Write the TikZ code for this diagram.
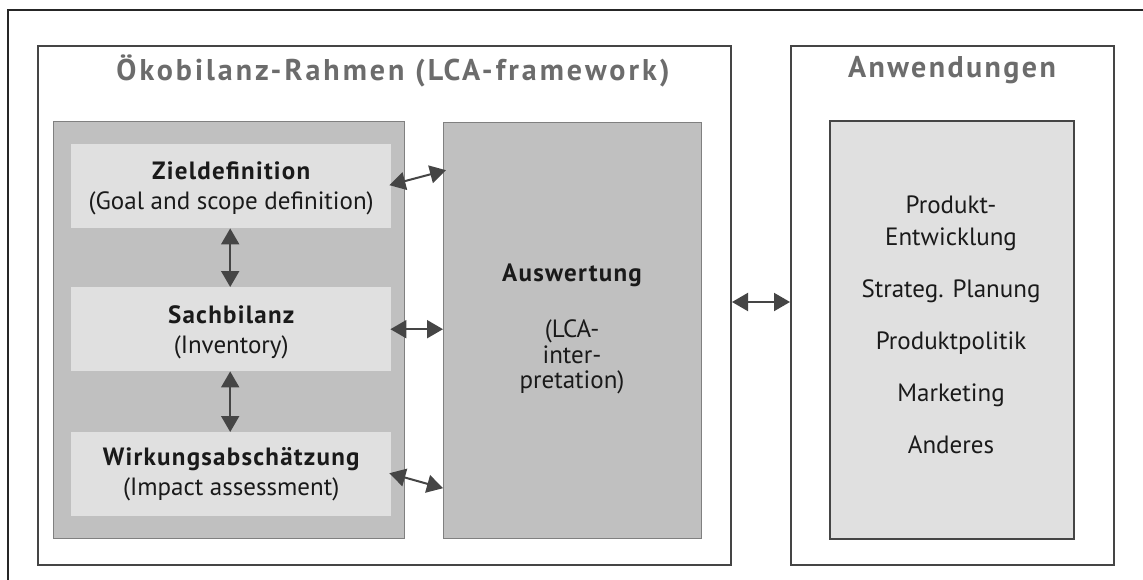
\documentclass[tikz,border=0pt]{standalone}
\usepackage{fontspec}
\setmainfont{PT Sans}
\newfontfamily\boldsp{PT Sans}[LetterSpace=5]
\newfontfamily\headsp{PT Sans}[LetterSpace=10]
\newfontfamily\headspb{PT Sans}[LetterSpace=8]
\usetikzlibrary{arrows.meta,calc}
\definecolor{txt}{HTML}{1A1A1A}
\definecolor{headgray}{HTML}{6C6C6C}
\definecolor{darkline}{HTML}{454545}
\definecolor{midgray}{HTML}{C0C0C0}
\definecolor{lightgray}{HTML}{E0E0E0}
\newcommand{\bl}[1]{{\boldsp\bfseries #1}}
\begin{document}
\begin{tikzpicture}[x=1pt,y=-1pt,
  outerframe/.style={draw=black!85, line width=1.5pt},
  bigframe/.style={draw=darkline, line width=2pt, inner sep=0pt, anchor=north west},
  panel/.style={fill=midgray, draw=black!50, line width=1pt, inner sep=0pt, anchor=north west},
  stepbox/.style={fill=lightgray, draw=none, inner sep=0pt, anchor=north west, minimum width=320pt, minimum height=84pt},
  appbox/.style={fill=lightgray, draw=darkline, line width=2pt, inner sep=0pt, anchor=north west},
  heading/.style={text=headgray},
  label/.style={text=txt, align=center, font=\fontsize{25}{30}\selectfont},
  dbl/.style={{Triangle[length=16pt,width=18pt]}-{Triangle[length=16pt,width=18pt]}, line width=2pt, draw=darkline}
]
\useasboundingbox (0,0) rectangle (1143,580);
\fill[white] (0,0) rectangle (1143,580);
\begin{scope}
  \clip (0,0) rectangle (1143,580);
  \draw[outerframe] (8,10) rectangle (1170,610);
\end{scope}

% frames
\node[bigframe, minimum width=693pt, minimum height=519pt] (lca) at (37,45) {};
\node[bigframe, minimum width=323pt, minimum height=519pt] (anw) at (790,45) {};

\node[heading, font=\fontsize{30}{34}\selectfont\headsp\bfseries] (lcahead) at (393,71) {Ökobilanz-Rahmen (LCA-framework)};
\node[heading, font=\fontsize{30}{34}\selectfont\headspb\bfseries] (anwhead) at (952,70) {Anwendungen};

% left panel
\node[panel, minimum width=351pt, minimum height=417pt] (panel) at (53,121) {};
\node[stepbox] (ziel) at (71,144) {};
\node[stepbox] (sach) at (71,287) {};
\node[stepbox] (wirk) at (71,432) {};

\node[label] (zieltext) at ($(ziel.center)+(0,2)$) {\bl{Zieldefinition}\\(Goal and scope definition)};
\node[label] (sachtext) at ($(sach.center)+(0,3)$) {\bl{Sachbilanz}\\(Inventory)};
\node[label] (wirktext) at ($(wirk.center)+(0,0)$) {\bl{Wirkungsabschätzung}\\(Impact assessment)};

% Auswertung
\node[panel, minimum width=258pt, minimum height=416pt] (ausw) at (443,122) {};
\node[label, font=\fontsize{25}{25.5}\selectfont] (auswtext) at (572,329) {\bl{Auswertung}\\[31pt](LCA-\\inter-\\pretation)};

% Anwendungen inner box
\node[appbox, minimum width=244pt, minimum height=418pt] (appl) at (829,120) {};
\node[label, font=\fontsize{25}{32}\selectfont] (appltext) at (951,325) {Produkt-\\Entwicklung\\[20pt]Strateg. Planung\\[20pt]Produktpolitik\\[20pt]Marketing\\[20pt]Anderes};

% arrows
\draw[dbl] ($(ziel.south)+(-1,0)$) -- ($(sach.north)+(-1,0)$);
\draw[dbl] ($(sach.south)+(-1,0)$) -- ($(wirk.north)+(-1,0)$);
\draw[dbl] ($(ziel.east)+(-2,-1)$) -- ($(ausw.west |- ziel.east)+(3,-16)$);
\draw[dbl] ($(sach.east)+(-1,0)$) -- (ausw.west |- sach.east);
\draw[dbl] ($(wirk.east)+(-2,-1)$) -- ($(ausw.west |- wirk.east)+(0,14)$);
\draw[dbl] (lca.east |- 0,302) -- (anw.west |- 0,302);
\end{tikzpicture}
\end{document}
